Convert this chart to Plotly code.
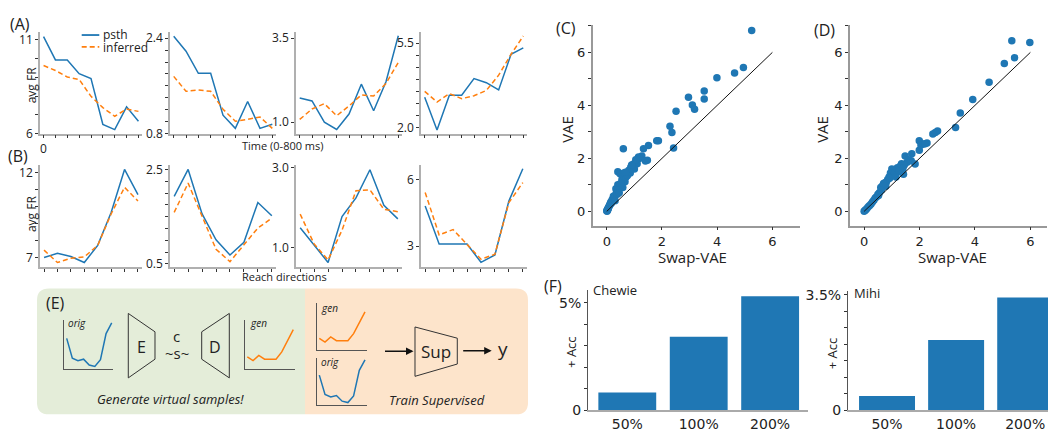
import plotly.graph_objects as go

W, H = 1048, 433
BLUE = '#1f77b4'
ORANGE = '#ff7f0e'
FONT = 'Open Sans, Lato, sans-serif'
TFONT = 'DejaVu Sans, sans-serif'

# ---------------- data ----------------
time_idx = list(range(9))
dir_idx = list(range(8))

A_psth = [
    [11.17, 9.93, 9.93, 9.20, 8.94, 6.50, 6.22, 7.43, 6.67],
    [2.43, 2.18, 1.81, 1.81, 1.11, 0.89, 1.34, 0.89, 0.96],
    [1.72, 1.63, 1.00, 0.78, 1.24, 2.13, 1.34, 2.20, 3.57],
    [3.26, 1.90, 3.34, 3.34, 4.03, 3.86, 3.56, 5.03, 5.30],
]
A_inferred = [
    [9.63, 9.37, 9.02, 8.89, 7.99, 7.39, 6.93, 7.31, 7.19],
    [1.76, 1.51, 1.53, 1.51, 1.21, 1.01, 1.04, 1.08, 0.89],
    [1.08, 1.39, 1.55, 1.19, 1.48, 1.81, 1.78, 2.15, 2.78],
    [3.50, 3.06, 3.41, 3.20, 3.32, 3.54, 4.17, 5.03, 5.79],
]
B_psth = [
    [7.00, 7.25, 7.06, 6.71, 7.72, 9.66, 12.19, 10.71],
    [1.93, 2.50, 1.56, 1.01, 0.69, 0.96, 1.80, 1.52],
    [1.50, 1.08, 0.64, 1.78, 2.24, 2.94, 2.06, 1.72],
    [4.81, 3.10, 3.10, 3.10, 2.28, 2.61, 5.03, 6.48],
]
B_inferred = [
    [7.44, 6.71, 6.96, 7.04, 7.72, 9.57, 11.14, 10.33],
    [1.59, 2.21, 1.51, 0.81, 0.55, 0.91, 1.26, 1.47],
    [1.84, 1.10, 0.70, 1.44, 2.42, 2.44, 1.96, 1.90],
    [5.42, 3.51, 3.75, 3.07, 2.42, 2.64, 4.96, 5.86],
]

A_yticks = [
    ([6, 7, 8, 9, 10, 11], ['6', '', '', '', '', '11']),
    ([0.8, 1.0, 1.2, 1.4, 1.6, 1.8, 2.0, 2.2, 2.4], ['0.8', '', '', '', '', '', '', '', '2.4']),
    ([1.0, 3.5], ['1.0', '3.5']),
    ([2.0, 2.5, 3.0, 3.5, 4.0, 4.5, 5.0, 5.5], ['2.0', '', '', '', '', '', '', '5.5']),
]
B_yticks = [
    ([7, 8, 9, 10, 11, 12], ['7', '', '', '', '', '12']),
    ([0.5, 0.75, 1.0, 1.25, 1.5, 1.75, 2.0, 2.25, 2.5], ['0.5', '', '', '', '', '', '', '', '2.5']),
    ([1.0, 3.0], ['1.0', '3.0']),
    ([3, 6], ['3', '6']),
]

C_swap = [5.25, 4.95, 4.63, 3.99, 3.53, 3.53, 2.96, 3.10, 3.18, 2.51, 2.29, 2.36, 2.42, 1.81, 1.87,
          1.51, 1.33, 0.60, 1.47, 0.40, 1.27, 1.20, 1.12, 1.05, 0.97, 0.92, 0.87, 0.80, 0.72, 0.66,
          0.60, 0.55, 0.48, 0.45, 0.40, 0.36, 0.33, 0.30, 0.27, 0.24, 0.20, 0.17, 0.14, 0.12, 0.09,
          0.06, 0.04, 0.02, 0.00, 0.01, 1.40, 1.10, 1.00, 0.85, 0.70, 0.62, 0.50, 0.42, 0.35, 0.28,
          0.22, 0.16, 0.10, 0.05, 0.03, 0.75, 0.95, 1.15, 0.58, 0.38, 0.45, 0.30, 1.05, 0.90, 0.68]
C_vae = [6.83, 5.43, 5.22, 5.04, 4.54, 4.24, 4.31, 4.01, 3.85, 3.78, 3.21, 2.98, 2.39, 2.66, 2.66,
         2.49, 2.36, 2.36, 1.93, 1.49, 2.09, 2.00, 1.97, 1.85, 1.79, 1.70, 1.66, 1.55, 1.42, 1.12,
         1.30, 1.20, 1.42, 0.95, 1.00, 0.75, 0.85, 0.60, 0.55, 0.57, 0.45, 0.38, 0.33, 0.28, 0.20,
         0.15, 0.10, 0.05, 0.02, 0.00, 1.90, 1.80, 1.60, 1.45, 1.30, 1.45, 1.05, 0.80, 0.70, 0.50,
         0.40, 0.30, 0.22, 0.10, 0.05, 1.35, 1.75, 2.05, 0.90, 0.65, 0.70, 0.40, 1.95, 1.75, 1.48]

D_swap = [5.33, 5.98, 5.43, 5.06, 4.51, 3.92, 3.47, 3.30, 2.65, 2.57, 2.48, 2.27, 2.14, 1.99, 1.99,
          1.72, 1.48, 1.70, 1.42, 1.84, 1.60, 1.55, 1.35, 1.30, 1.20, 1.12, 1.05, 1.00, 0.95, 0.90,
          0.85, 0.80, 0.75, 0.70, 0.65, 0.60, 0.55, 0.50, 0.45, 0.40, 0.35, 0.30, 0.25, 0.20, 0.15,
          0.10, 0.06, 0.03, 0.00, 1.10, 0.92, 0.78, 0.62, 0.52, 1.25, 1.45, 2.05, 2.20, 1.15, 1.40]
D_vae = [6.44, 6.37, 5.80, 5.58, 4.87, 4.22, 3.71, 3.16, 3.03, 2.98, 2.92, 2.58, 2.54, 2.66, 2.31,
         2.17, 2.09, 1.91, 1.40, 1.79, 1.95, 1.85, 1.80, 1.70, 1.65, 1.58, 1.55, 1.60, 1.45, 1.30,
         1.20, 1.10, 1.08, 1.05, 0.95, 0.90, 0.70, 0.65, 0.55, 0.50, 0.42, 0.35, 0.28, 0.22, 0.17,
         0.11, 0.06, 0.03, 0.00, 1.45, 1.25, 0.95, 0.80, 0.60, 1.50, 1.75, 2.50, 2.55, 1.30, 1.62]

diag = [0, 6]

F_cats = ['50%', '100%', '200%']
F_chewie = [0.84, 3.42, 5.30]
F_mihi = [0.44, 2.13, 3.42]

E_idx = list(range(9))
E_orig = [0.63, 0.22, 0.17, 0.20, 0.08, 0.05, 0.19, 0.73, 0.95]
E_gen = [0.25, 0.17, 0.28, 0.20, 0.20, 0.20, 0.35, 0.59, 0.81]


# ---------------- helpers ----------------
def px(x):
    return x / W


def py(y):
    return 1 - y / H


layout = {}


def add_axes(n, x0, x1, y0, y1, xr, yr, xt=None, yt=None, linecolor='#b0b0b0', linewidth=1.5,
             font=FONT, fsize=12, xticks=True, yticks=True, xlinecolor=None, ylinecolor=None,
             xlinewidth=None, ylinewidth=None):
    s = '' if n == 1 else str(n)
    xa = dict(domain=[px(x0), px(x1)], range=xr, anchor='y' + s, showgrid=False, zeroline=False,
              showline=True, linecolor=xlinecolor or linecolor, linewidth=xlinewidth or linewidth,
              fixedrange=True, tickfont=dict(family=font, size=fsize, color='#222'))
    ya = dict(domain=[py(y1), py(y0)], range=yr, anchor='x' + s, showgrid=False, zeroline=False,
              showline=True, linecolor=ylinecolor or linecolor, linewidth=ylinewidth or linewidth,
              fixedrange=True, tickfont=dict(family=font, size=fsize, color='#222'))
    for ax, t, on in ((xa, xt, xticks), (ya, yt, yticks)):
        if t is not None:
            ax.update(tickmode='array', tickvals=t[0], ticktext=t[1])
            ax.update(ticks='outside' if on else '', ticklen=3, tickwidth=1, tickcolor='#333')
            ax.update(showticklabels=any(str(v) != '' for v in t[1]))
        else:
            ax.update(ticks='', showticklabels=False)
    layout['xaxis' + s] = xa
    layout['yaxis' + s] = ya
    return 'x' + s, 'y' + s


fig = go.Figure()

cols = [(40, 142), (170, 276), (296, 402), (421, 527)]

A_yranges = [[6, 11.41], [0.8, 2.50], [0.654, 3.68], [1.75, 5.95]]
B_yranges = [[6.43, 12.47], [0.43, 2.60], [0.52, 3.065], [2.057, 6.665]]

n = 1
for i in range(4):
    xt_labels = ['0'] + [''] * 8 if i == 0 else [''] * 9
    xa, ya = add_axes(n, cols[i][0], cols[i][1], 27, 132, [-0.3, 8.3], A_yranges[i],
                      xt=(time_idx, xt_labels), yt=A_yticks[i])
    fig.add_trace(go.Scatter(x=time_idx, y=A_psth[i], mode='lines', line=dict(color=BLUE, width=1.5),
                             xaxis=xa, yaxis=ya, showlegend=False))
    fig.add_trace(go.Scatter(x=time_idx, y=A_inferred[i], mode='lines',
                             line=dict(color=ORANGE, width=1.5, dash='5px,3px'),
                             xaxis=xa, yaxis=ya, showlegend=False))
    n += 1
for i in range(4):
    xa, ya = add_axes(n, cols[i][0], cols[i][1], 164, 270, [-0.3, 7.3], B_yranges[i],
                      xt=(dir_idx, [''] * 8), yt=B_yticks[i])
    fig.add_trace(go.Scatter(x=dir_idx, y=B_psth[i], mode='lines', line=dict(color=BLUE, width=1.5),
                             xaxis=xa, yaxis=ya, showlegend=False))
    fig.add_trace(go.Scatter(x=dir_idx, y=B_inferred[i], mode='lines',
                             line=dict(color=ORANGE, width=1.5, dash='5px,3px'),
                             xaxis=xa, yaxis=ya, showlegend=False))
    n += 1

# C and D scatter
sc_yt = ([0, 1, 2, 3, 4, 5, 6, 7], ['0', '', '2', '', '4', '', '6', ''])
sc_xt = ([0, 2, 4, 6], ['0', '2', '4', '6'])
for (x0, x1, xr, sx, sy) in ((592.7, 800, [-0.51, 7.0], C_swap, C_vae),
                             (850, 1047, [-0.51, 6.6], D_swap, D_vae)):
    xa, ya = add_axes(n, x0, x1, 20, 227, xr, [-0.54, 7.02], xt=sc_xt, yt=sc_yt,
                      linecolor='#999', font=TFONT, fsize=13)
    fig.add_trace(go.Scatter(x=sx, y=sy, mode='markers', marker=dict(color=BLUE, size=7.5),
                             xaxis=xa, yaxis=ya, showlegend=False))
    fig.add_trace(go.Scatter(x=diag, y=diag, mode='lines', line=dict(color='#111', width=1),
                             xaxis=xa, yaxis=ya, showlegend=False))
    n += 1

# F bars
for (x0, x1, y0, xr, yr, vals, yt) in (
        (588, 808, 294, [-0.55, 2.53], [0, 5.57], F_chewie,
         ([0, 1, 2, 3, 4, 5], ['0', '', '', '', '', '5%'])),
        (848, 1048, 295, [-0.565, 2.33], [0, 3.6], F_mihi,
         ([0, 0.5, 1, 1.5, 2, 2.5, 3, 3.5], ['0', '', '', '', '', '', '', '3.5%']))):
    xa, ya = add_axes(n, x0, x1, y0, 418, xr, yr, xt=([0, 1, 2], F_cats), yt=yt,
                      font=TFONT, fsize=14, xticks=False, xlinecolor='#aaa', xlinewidth=2,
                      ylinecolor='#555', ylinewidth=1)
    layout['xaxis' + str(n)]['tickvals'] = F_cats
    fig.add_trace(go.Bar(x=F_cats, y=vals, width=0.81, marker=dict(color=BLUE, line=dict(width=0)),
                         xaxis=xa, yaxis=ya, showlegend=False))
    n += 1

# E mini charts
for (x0, x1, y0, y1, vals, color, xr) in (
        (64, 113, 325, 375, E_orig, BLUE, [-0.48, 8.23]),
        (245, 295, 325, 375, E_gen, ORANGE, [-0.4, 8.3]),
        (317.3, 367.3, 306.7, 355.7, E_gen, ORANGE, [-0.35, 8.4]),
        (317.3, 367.3, 363.3, 412.3, E_orig, BLUE, [-0.35, 8.4])):
    xa, ya = add_axes(n, x0, x1, y0, y1, xr, [0, 1], linecolor='#555', linewidth=1)
    fig.add_trace(go.Scatter(x=E_idx, y=vals, mode='lines', line=dict(color=color, width=1.5),
                             xaxis=xa, yaxis=ya, showlegend=False))
    n += 1


# ---------------- shapes ----------------
def P(x, y):
    return f'{px(x):.5f},{py(y):.5f}'


r = 12
shapes = []
green_path = (f'M {P(305, 292)} L {P(37 + r, 292)} Q {P(37, 292)} {P(37, 292 + r)} '
              f'L {P(37, 422 - r)} Q {P(37, 422)} {P(37 + r, 422)} L {P(305, 422)} Z')
orange_path = (f'M {P(305, 292)} L {P(528 - r, 292)} Q {P(528, 292)} {P(528, 292 + r)} '
               f'L {P(528, 422 - r)} Q {P(528, 422)} {P(528 - r, 422)} L {P(305, 422)} Z')
shapes.append(dict(type='path', path=green_path, xref='paper', yref='paper', fillcolor='#e4edd9',
                   line=dict(width=0), layer='below'))
shapes.append(dict(type='path', path=orange_path, xref='paper', yref='paper', fillcolor='#fde4cb',
                   line=dict(width=0), layer='below'))


def poly(pts):
    return 'M ' + ' L '.join(P(x, y) for x, y in pts) + ' Z'


for pts in ([(128.3, 317.7), (155, 336.7), (155, 365), (128.3, 384.3)],
            [(201.7, 336.7), (229.3, 317.7), (229.3, 384.3), (201.7, 365)],
            [(415, 331.7), (457.3, 343.3), (457.3, 370), (415, 382.7)]):
    shapes.append(dict(type='path', path=poly(pts), xref='paper', yref='paper',
                       line=dict(color='#333', width=1)))

# legend samples
shapes.append(dict(type='line', xref='paper', yref='paper', x0=px(81.7), x1=px(99.3), y0=py(30), y1=py(30),
                   line=dict(color=BLUE, width=1.8)))
shapes.append(dict(type='line', xref='paper', yref='paper', x0=px(81.7), x1=px(99.3), y0=py(42.3),
                   y1=py(42.3), line=dict(color=ORANGE, width=1.8, dash='5px,3px')))

# ---------------- annotations ----------------
annotations = []


def ann(text, x, y, size, xanchor='center', angle=0, family=FONT, color='#222'):
    annotations.append(dict(text=text, x=px(x), y=py(y), xref='paper', yref='paper', showarrow=False,
                            xanchor=xanchor, yanchor='middle', textangle=angle, borderpad=0,
                            font=dict(family=family, size=size, color=color)))


ann('(A)', 20, 19, 16)
ann('(B)', 18, 155, 16)
ann('(C)', 566, 23, 16)
ann('(D)', 824, 25, 16)
ann('(E)', 55, 307, 16)
ann('(F)', 553, 289, 16)
ann('psth', 101.7, 29.5, 12, xanchor='left')
ann('inferred', 101.7, 42.5, 12, xanchor='left')
ann('avg FR', 31, 82, 12, angle=-90)
ann('avg FR', 31, 215, 12, angle=-90)
ann('Time (0-800 ms)', 283, 144, 11)
ann('Reach directions', 284, 280, 11)
ann('VAE', 567, 128, 15, angle=-90)
ann('Swap-VAE', 692, 259, 15)
ann('VAE', 822, 128, 15, angle=-90)
ann('Swap-VAE', 952, 259, 15)
ann('Chewie', 592, 294, 13, xanchor='left')
ann('Mihi', 853, 297, 13, xanchor='left')
ann('+ Acc', 571.5, 358, 13, angle=-90)
ann('+ Acc', 832, 360, 13, angle=-90)
ann('<i>orig</i>', 67, 328, 10, xanchor='left')
ann('<i>gen</i>', 249, 328, 10, xanchor='left')
ann('<i>gen</i>', 319.5, 311.7, 10, xanchor='left')
ann('<i>orig</i>', 319.5, 368.3, 10, xanchor='left')
ann('E', 141.7, 352, 16)
ann('D', 215, 352, 16)
ann('c', 176.7, 341, 15)
ann('~s~', 176.7, 359, 15)
ann('Sup', 435.5, 356.7, 17)
ann('y', 502.7, 354, 19)
ann('<i>Generate virtual samples!</i>', 170, 405.7, 13)
ann('<i>Train Supervised</i>', 436.7, 407.3, 13)

for (hx, hy) in ((413.5, 356.7), (491.7, 356.3)):
    annotations.append(dict(text='', x=px(hx), y=py(hy), xref='paper', yref='paper', showarrow=True,
                            ax=-30, ay=0, axref='pixel', ayref='pixel', arrowhead=2, arrowsize=1,
                            arrowwidth=1.5, arrowcolor='#111', standoff=0, startstandoff=0))

fig.update_layout(**layout)
fig.update_layout(width=W, height=H, autosize=False, margin=dict(l=0, r=0, t=0, b=0),
                  paper_bgcolor='white', plot_bgcolor='rgba(0,0,0,0)', shapes=shapes,
                  annotations=annotations, showlegend=False, bargap=0.2,
                  font=dict(family=FONT, color='#222'))

fig.write_html('out.html', config={'displayModeBar': False},
               post_script="document.body.style.margin='0';document.body.style.overflow='hidden';")
